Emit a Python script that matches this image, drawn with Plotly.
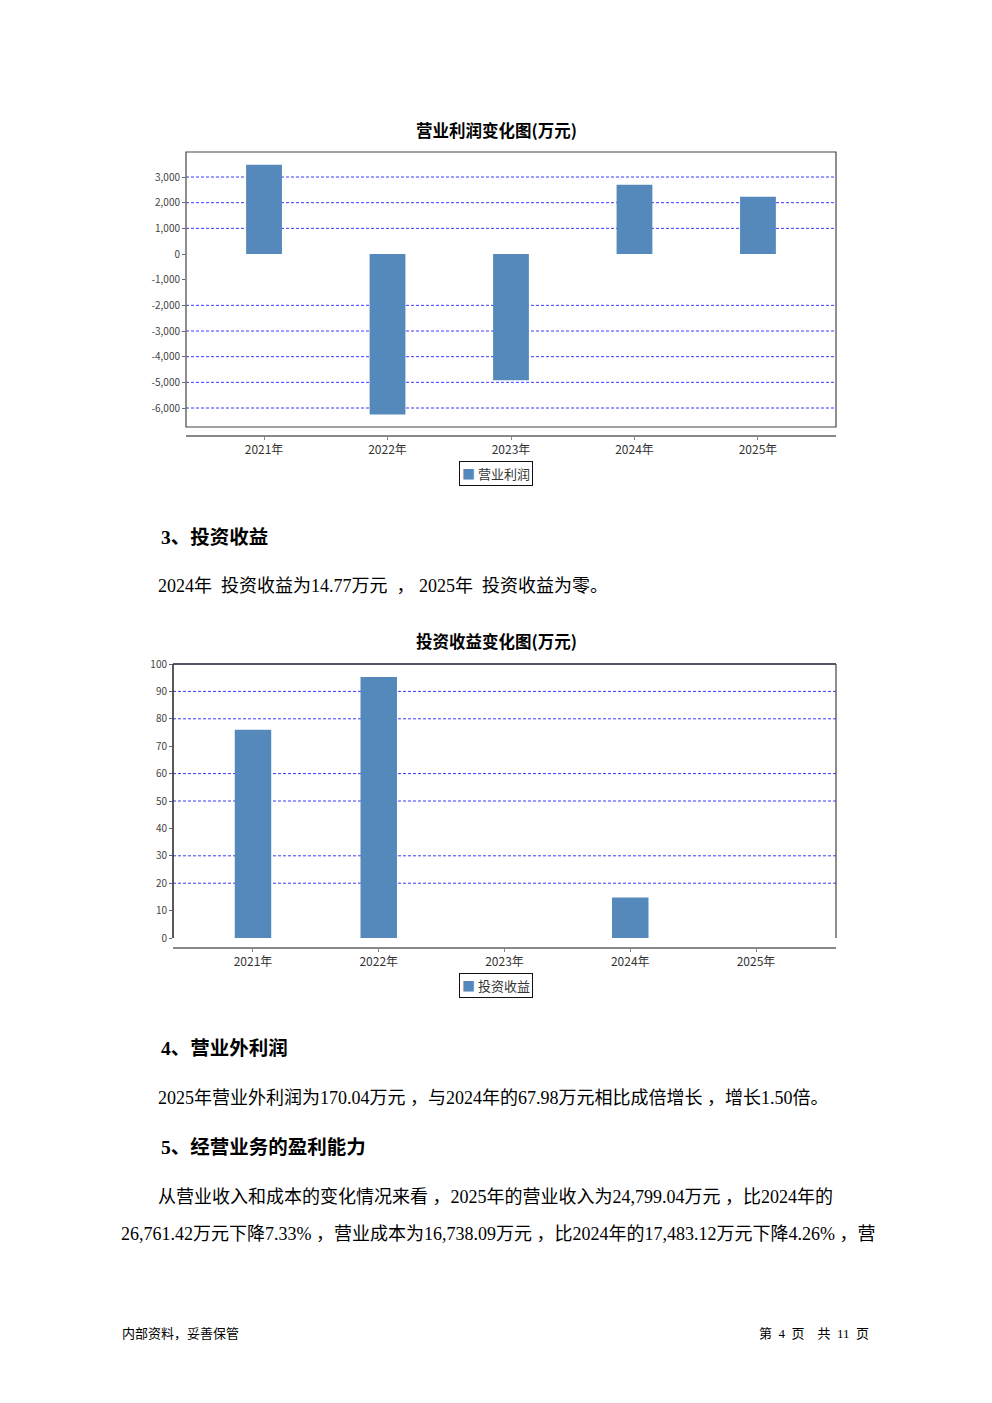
import plotly.graph_objects as go

W, H = 992, 1403

# ---------------- data ----------------
years = ["2021年", "2022年", "2023年", "2024年", "2025年"]
op_profit = [3477, -6250, -4920, 2695, 2227]          # 营业利润 (万元)
inv_income = [76.0, 95.3, 0, 14.77, 0]                 # 投资收益 (万元)

op_ticks = [3000, 2000, 1000, 0, -1000, -2000, -3000, -4000, -5000, -6000]
op_ticklabels = ["3,000", "2,000", "1,000", "0", "-1,000", "-2,000",
                 "-3,000", "-4,000", "-5,000", "-6,000"]
op_grid = [3000, 2000, 1000, -2000, -3000, -4000, -5000, -6000]

inv_ticks = [0, 10, 20, 30, 40, 50, 60, 70, 80, 90, 100]
inv_grid = [90, 80, 60, 50, 30, 20]

BAR = "#5589bb"
GRID = "#3a3aff"
CJK = "Noto Sans CJK SC"
BODY = "Liberation Serif, Noto Sans CJK SC"


def px_x(p):
    return p / W


def px_y(p):
    return 1 - p / H


fig = go.Figure()

fig.add_trace(go.Bar(x=years, y=op_profit, name="营业利润", marker_color=BAR,
                     marker_line_width=0, width=0.29, xaxis="x", yaxis="y"))
fig.add_trace(go.Bar(x=years, y=inv_income, name="投资收益", marker_color=BAR,
                     marker_line_width=0, width=0.29, xaxis="x2", yaxis="y2"))

tickfont = dict(family=CJK, size=10, color="#444")
xtickfont = dict(family=CJK, size=12, color="#333")

fig.update_layout(
    width=W, height=H,
    margin=dict(l=0, r=0, t=0, b=0, pad=0, autoexpand=False),
    paper_bgcolor="white", plot_bgcolor="white",
    showlegend=False,
    xaxis=dict(domain=[px_x(186), px_x(836)], anchor="free", position=px_y(436),
               range=[-0.632, 4.632], type="category",
               showline=True, linecolor="#888", linewidth=2,
               ticks="outside", ticklen=3, tickcolor="#888",
               tickfont=xtickfont, automargin=False,
               showgrid=False, zeroline=False),
    yaxis=dict(domain=[px_y(427), px_y(152)], anchor="x", range=[-6740, 3975],
               tickvals=op_ticks, ticktext=op_ticklabels, automargin=False,
               ticks="outside", ticklen=3, tickcolor="#666", tickfont=tickfont,
               showgrid=False, zeroline=False, showline=False),
    xaxis2=dict(domain=[px_x(173), px_x(836)], anchor="free", position=px_y(948),
                range=[-0.636, 4.636], type="category",
                showline=True, linecolor="#888", linewidth=2,
                ticks="outside", ticklen=3, tickcolor="#888",
                tickfont=xtickfont, automargin=False,
                showgrid=False, zeroline=False),
    yaxis2=dict(domain=[px_y(938), px_y(664)], anchor="x2", range=[0, 100],
                tickvals=inv_ticks, automargin=False,
                ticks="outside", ticklen=3, tickcolor="#666", tickfont=tickfont,
                showgrid=False, zeroline=False, showline=False),
)

shapes = []
# grid lines
for v in op_grid:
    shapes.append(dict(type="line", xref="x domain", yref="y", x0=0, x1=1, y0=v, y1=v,
                       line=dict(color=GRID, width=1, dash="3px,2px"), layer="below"))
for v in inv_grid:
    shapes.append(dict(type="line", xref="x2 domain", yref="y2", x0=0, x1=1, y0=v, y1=v,
                       line=dict(color=GRID, width=1, dash="3px,2px"), layer="below"))
# chart 1 frame
shapes.append(dict(type="rect", xref="x domain", yref="y domain", x0=0, x1=1, y0=0, y1=1,
                   line=dict(color="#444", width=1.2)))
# chart 2 frame: left, top, right
shapes.append(dict(type="line", xref="x2 domain", yref="y2 domain", x0=0, x1=0, y0=0, y1=1,
                   line=dict(color="#222", width=1.5)))
shapes.append(dict(type="line", xref="x2 domain", yref="y2 domain", x0=0, x1=1, y0=1, y1=1,
                   line=dict(color="#1a1a3a", width=1.5)))
shapes.append(dict(type="line", xref="x2 domain", yref="y2 domain", x0=1, x1=1, y0=0, y1=1,
                   line=dict(color="#444", width=1.2)))
fig.update_layout(shapes=shapes)

ann = []


def text(x, y, s, size, family=BODY, bold=False, anchor="left", color="#000", **kw):
    d = dict(xref="paper", yref="paper", x=px_x(x), y=px_y(y), text=(f"<b>{s}</b>" if bold else s),
             showarrow=False, xanchor=anchor, yanchor="middle",
             font=dict(family=family, size=size, color=color))
    d.update(kw)
    ann.append(d)


# legends (boxed keys below each chart)
text(496, 473, f'<span style="color:{BAR}">■</span> 营业利润', 13, family=CJK, anchor="center",
     color="#333", bordercolor="#111", borderwidth=1, borderpad=2, bgcolor="white")
text(496, 985, f'<span style="color:{BAR}">■</span> 投资收益', 13, family=CJK, anchor="center",
     color="#333", bordercolor="#111", borderwidth=1, borderpad=2, bgcolor="white")

text(496, 130, "营业利润变化图(万元)", 16.5, family=CJK, bold=True, anchor="center")
text(159, 537, "3、投资收益", 19.5, family="Liberation Serif, " + CJK, bold=True)
text(156, 586, "2024年  投资收益为14.77万元  ， 2025年  投资收益为零。", 18)
text(496, 641, "投资收益变化图(万元)", 16.5, family=CJK, bold=True, anchor="center")
text(159, 1048, "4、营业外利润", 19.5, family="Liberation Serif, " + CJK, bold=True)
text(156, 1098, "2025年营业外利润为170.04万元 ，与2024年的67.98万元相比成倍增长 ，增长1.50倍。", 18)
text(159, 1147, "5、经营业务的盈利能力", 19.5, family="Liberation Serif, " + CJK, bold=True)
text(156, 1197, "从营业收入和成本的变化情况来看 ，2025年的营业收入为24,799.04万元 ，比2024年的", 18)
text(119, 1234, "26,761.42万元下降7.33% ，营业成本为16,738.09万元 ，比2024年的17,483.12万元下降4.26% ，营", 18)
text(120, 1333, "内部资料，妥善保管", 13)
text(871, 1333, "第  4  页    共  11  页", 13, anchor="right")

fig.update_layout(annotations=ann)

fig.write_html("out.html", config={"displayModeBar": False},
               post_script="document.body.style.margin='0';document.body.style.overflow='hidden';")
